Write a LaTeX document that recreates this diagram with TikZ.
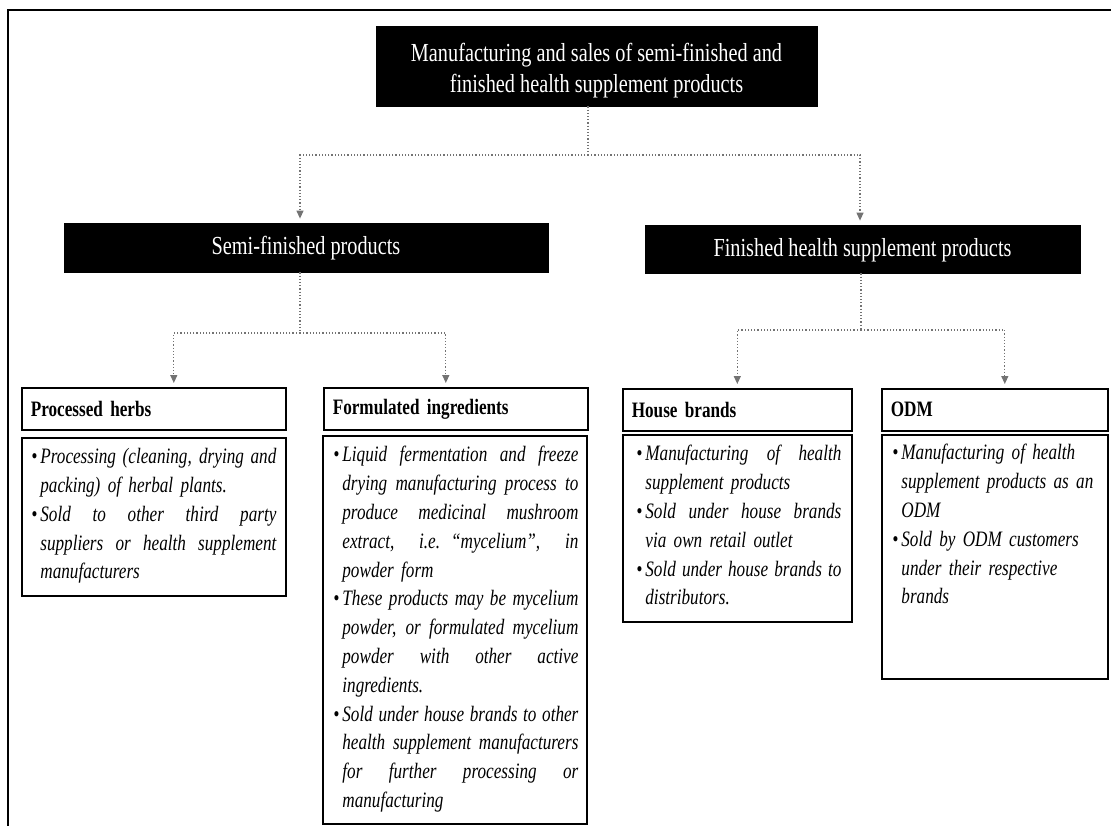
\documentclass[tikz,border=0pt]{standalone}
\usepackage{fontspec}
\setmainfont{Liberation Serif}[FakeStretch=0.78]
\usetikzlibrary{arrows.meta}
\newlength\colw
% a fully justified line of a bullet paragraph: interword spaces spread evenly
\newcommand\jl[1]{\makebox[\colw][s]{\spaceskip=\fontdimen2\font plus 1fil minus 0.12em\relax #1}}
% hanging bullet
\newcommand\bul{\leavevmode\llap{\textbullet\hspace{1.5pt}}}

\begin{document}
\begin{tikzpicture}[x=0.5pt,y=-0.5pt,
  frame/.style={line width=0.9pt, draw=black},
  darkbox/.style={fill=black, draw=black, inner sep=0pt},
  darktext/.style={text=white, inner sep=0pt, align=center},
  hdr/.style={draw=black, line width=0.8pt, anchor=north west, minimum height=21pt,
    inner xsep=4.5pt, inner ysep=0pt, align=left, font=\bfseries\fontsize{11}{13}\selectfont},
  bodybox/.style={draw=black, line width=0.8pt, anchor=north west, inner sep=0pt},
  bodytext/.style={anchor=north west, inner sep=0pt, align=left,
    font=\itshape\fontsize{11}{14.4}\selectfont},
  conn/.style={draw=black!55, line width=0.6pt, densely dotted,
    -{Triangle[length=4pt,width=3.5pt]}, shorten >=2pt},
  plainconn/.style={draw=black!55, line width=0.6pt, densely dotted},
]
\useasboundingbox (0,0) rectangle (1111,826);

% outer frame (top and left edges)
\draw[frame] (1111,10) -- (8,10) -- (8,826);

% top level
\node[darkbox, minimum width=220.5pt, minimum height=40pt] (top) at (596.5,66) {};
\node[darktext, font=\fontsize{13}{15.5}\selectfont] (topT) at ([yshift=-2.5pt]top.center)
  {Manufacturing and sales of semi-finished and\\finished health supplement products};

% second level
\node[darkbox, minimum width=242pt, minimum height=24.5pt] (semi) at (306,247.5) {};
\node[darktext, font=\fontsize{13}{15}\selectfont] (semiT) at ([yshift=-0.5pt]semi.center)
  {Semi-finished products};
\node[darkbox, minimum width=217.5pt, minimum height=24pt] (fin) at (862.5,249) {};
\node[darktext, font=\fontsize{13}{15}\selectfont] (finT) at ([yshift=-0.5pt]fin.center)
  {Finished health supplement products};

% third level headers
\node[hdr, text width=123pt] (herbs) at (21,387) {Processed herbs};
\node[hdr, text width=123pt] (form) at (323,387) {Formulated ingredients};
\node[hdr, text width=105.5pt] (house) at (622,388) {House brands};
\node[hdr, text width=104pt] (odm) at (881,388) {ODM};

% description boxes
\node[bodybox, minimum width=132pt, minimum height=79pt] (herbsB) at (21,437) {};
\node[bodybox, minimum width=132pt, minimum height=194pt] (formB) at (322,435) {};
\node[bodybox, minimum width=114.5pt, minimum height=93.5pt] (houseB) at (622,434) {};
\node[bodybox, minimum width=113pt, minimum height=122pt] (odmB) at (881,434) {};

\setlength\colw{118pt}
\node[bodytext, text width=118pt] (herbsT) at ([xshift=9.5pt,yshift=-5.5pt]herbsB.north west)
  {\bul\jl{Processing (cleaning, drying and}\\
   packing) of herbal plants.\\
   \bul\jl{Sold to other third party}\\
   \jl{suppliers or health supplement}\\
   manufacturers};

\node[bodytext, text width=118pt] (formT) at ([xshift=10pt,yshift=-5.5pt]formB.north west)
  {\bul\jl{Liquid fermentation and freeze}\\
   \jl{drying manufacturing process to}\\
   \jl{produce medicinal mushroom}\\
   \jl{extract, i.e. “mycelium”, in}\\
   powder form\\
   \bul\jl{These products may be mycelium}\\
   \jl{powder, or formulated mycelium}\\
   \jl{powder with other active}\\
   ingredients.\\
   \bul\jl{Sold under house brands to other}\\
   \jl{health supplement manufacturers}\\
   \jl{for further processing or}\\
   manufacturing};

\setlength\colw{98pt}
\node[bodytext, text width=98pt] (houseT) at ([xshift=11.5pt,yshift=-5.5pt]houseB.north west)
  {\bul\jl{Manufacturing of health}\\
   supplement products\\
   \bul\jl{Sold under house brands}\\
   via own retail outlet\\
   \bul\jl{Sold under house brands to}\\
   distributors.};

\node[bodytext, text width=96pt] (odmT) at ([xshift=10pt,yshift=-5pt]odmB.north west)
  {\bul Manufacturing of health\\
   supplement products as an\\
   ODM\\
   \bul Sold by ODM customers\\
   under their respective\\
   brands};

% connectors
\coordinate (j1) at (588,155);
\draw[conn] (j1 |- top.south) -- (j1) -| ([xshift=-3pt]semi.north);
\draw[conn] (j1) -| ([xshift=-1.25pt]fin.north);

\coordinate (j2) at (300,333);
\draw[plainconn] (j2 |- semi.south) -- (j2);
\draw[conn] (j2) -| ([xshift=10pt]herbs.north);
\draw[conn] (j2) -| ([xshift=-5pt]form.north);

\coordinate (j3) at (861,330);
\draw[plainconn] (j3 |- fin.south) -- (j3);
\draw[conn] (j3) -| (house.north);
\draw[conn] (j3) -| ([xshift=5pt]odm.north);
\end{tikzpicture}
\end{document}
